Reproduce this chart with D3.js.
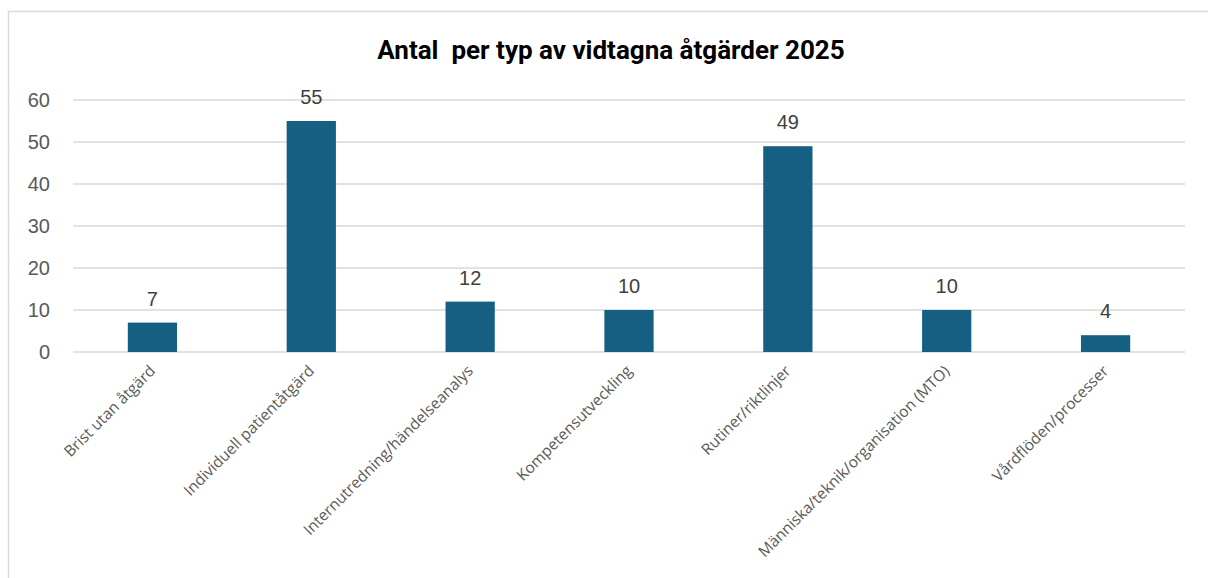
<!DOCTYPE html>
<html>
<head>
<meta charset="utf-8">
<script src="https://cdn.jsdelivr.net/npm/d3@7"></script>
<style>
  html, body { margin: 0; padding: 0; background: #fff; overflow: hidden; }
  svg { display: block; }
</style>
</head>
<body>
<svg id="chart" width="1208" height="578"></svg>
<script>
const title = "Antal  per typ av vidtagna åtgärder 2025";
const categories = [
  "Brist utan åtgärd",
  "Individuell patientåtgärd",
  "Internutredning/händelseanalys",
  "Kompetensutveckling",
  "Rutiner/riktlinjer",
  "Människa/teknik/organisation (MTO)",
  "Vårdflöden/processer"
];
const values = [7, 55, 12, 10, 49, 10, 4];
const yTicks = [0, 10, 20, 30, 40, 50, 60];

const W = 1208, H = 578;
const plot = { left: 73, right: 1185, top: 100, bottom: 352 };
const barColor = "#156082";
const gridColor = "#d9d9d9";
const labelFont = "'Open Sans', 'Liberation Sans', Arial, sans-serif";
const numFont = "'Liberation Sans', Arial, sans-serif";

const svg = d3.select("#chart");
svg.append("rect").attr("width", W).attr("height", H).attr("fill", "#fff");
// chart frame
svg.append("rect")
  .attr("x", 8.5).attr("y", 11.5)
  .attr("width", W + 10).attr("height", H + 10)
  .attr("fill", "none").attr("stroke", gridColor).attr("stroke-width", 1.5);

const x = d3.scaleBand()
  .domain(categories)
  .range([plot.left, plot.right])
  .paddingInner(0.69)
  .paddingOuter(0.345);

const y = d3.scaleLinear()
  .domain([0, 60])
  .range([plot.bottom, plot.top]);

// gridlines
svg.append("g")
  .selectAll("line")
  .data(yTicks)
  .join("line")
  .attr("x1", plot.left).attr("x2", plot.right)
  .attr("y1", d => y(d)).attr("y2", d => y(d))
  .attr("stroke", gridColor).attr("stroke-width", 1.5);

// y axis labels
const yAxis = d3.axisLeft(y).tickValues(yTicks).tickSize(0).tickPadding(0);
const yg = svg.append("g")
  .attr("transform", `translate(${plot.left - 23},0)`)
  .call(yAxis);
yg.select(".domain").remove();
yg.selectAll("text")
  .attr("fill", "#595959")
  .style("font-family", numFont)
  .style("font-size", "20px");

// bars
svg.append("g")
  .selectAll("rect")
  .data(values)
  .join("rect")
  .attr("x", (d, i) => x(categories[i]))
  .attr("width", x.bandwidth())
  .attr("y", d => y(d))
  .attr("height", d => y(0) - y(d))
  .attr("fill", barColor);

// value labels
svg.append("g")
  .selectAll("text")
  .data(values)
  .join("text")
  .attr("x", (d, i) => x(categories[i]) + x.bandwidth() / 2)
  .attr("y", d => y(d) - 17)
  .attr("text-anchor", "middle")
  .attr("fill", "#404040")
  .style("font-family", numFont)
  .style("font-size", "20px")
  .text(d => d);

// x axis labels (rotated)
const xAxis = d3.axisBottom(x).tickSize(0).tickPadding(0);
const xg = svg.append("g")
  .attr("transform", `translate(0,${plot.bottom})`)
  .call(xAxis);
xg.select(".domain").remove();
xg.selectAll("text")
  .attr("fill", "#595959")
  .style("font-family", labelFont)
  .style("font-size", "15.5px")
  .attr("text-anchor", "end")
  .attr("dy", "0.72em")
  .attr("y", 0)
  .attr("transform", "translate(-4,12) rotate(-45)");

// title
svg.append("text")
  .attr("x", 611)
  .attr("y", 59)
  .attr("text-anchor", "middle")
  .attr("fill", "#000")
  .attr("xml:space", "preserve")
  .style("white-space", "pre")
  .style("font-family", "Roboto, 'Liberation Sans', Arial, sans-serif")
  .style("font-weight", "bold")
  .style("font-size", "26px")
  .text(title);
</script>
</body>
</html>
